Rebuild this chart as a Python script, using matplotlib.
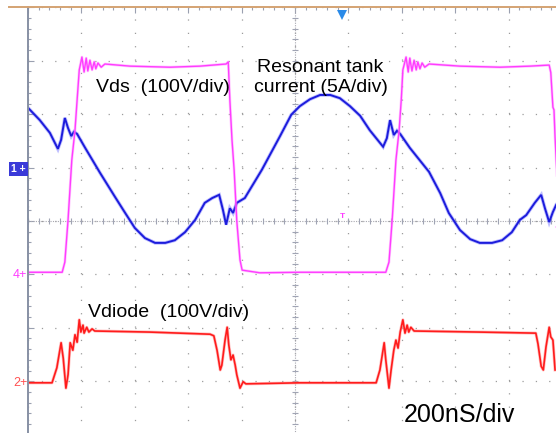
import numpy as np
import matplotlib
matplotlib.use("Agg")
import matplotlib.pyplot as plt
from matplotlib.lines import Line2D

# ---- data (time in divisions, 200 ns/div; amplitude in screen divisions) ----
vds_t = [0.00, 0.64, 0.69, 0.75, 0.82, 0.88, 0.92, 0.96, 1.01, 1.05, 1.09, 1.12, 1.16, 1.20,
         1.24, 1.27, 1.31, 1.37, 1.44, 1.91, 2.66, 3.22, 3.71, 3.75, 3.78, 3.82, 3.86, 3.91,
         3.97, 4.01, 4.34, 5.09, 5.84, 6.70, 6.76, 6.82, 6.89, 6.95, 6.99, 7.02, 7.08, 7.12,
         7.15, 7.19, 7.23, 7.27, 7.30, 7.34, 7.38, 7.43, 7.51, 8.09, 8.84, 9.40, 9.76, 9.79,
         9.83, 9.85, 9.87, 9.93]
vds_v = [-0.96, -0.96, -0.77, 0.02, 1.14, 1.70, 2.27, 2.83, 3.07, 2.79, 3.05, 2.81, 3.01, 2.83,
         2.98, 2.85, 2.96, 2.88, 2.94, 2.90, 2.88, 2.90, 2.94, 2.98, 2.27, 1.52, 0.96, 0.00,
         -0.73, -0.92, -0.97, -0.96, -0.96, -0.96, -0.77, 0.02, 1.14, 1.70, 2.27, 2.83, 3.07, 2.79,
         3.05, 2.81, 3.01, 2.83, 2.98, 2.85, 2.96, 2.88, 2.94, 2.90, 2.88, 2.90, 2.92, 2.78,
         2.13, 2.08, 1.57, 0.39]

cur_t = [0.00, 0.22, 0.41, 0.56, 0.62, 0.69, 0.75, 0.81, 0.86, 0.92, 1.07, 1.35, 1.63, 1.82,
         2.00, 2.19, 2.38, 2.57, 2.75, 2.94, 3.13, 3.31, 3.45, 3.58, 3.65, 3.71, 3.78, 3.84,
         3.91, 4.06, 4.38, 4.72, 4.93, 5.09, 5.28, 5.47, 5.66, 5.84, 6.03, 6.22, 6.40, 6.65,
         6.72, 6.78, 6.85, 6.91, 6.97, 7.15, 7.51, 7.72, 7.88, 8.09, 8.28, 8.46, 8.69, 8.88,
         9.06, 9.21, 9.33, 9.49, 9.61, 9.68, 9.76, 9.83, 9.89]
cur_v = [2.12, 1.89, 1.65, 1.35, 1.52, 1.93, 1.74, 1.59, 1.67, 1.63, 1.37, 0.90, 0.45, 0.15,
         -0.13, -0.32, -0.41, -0.41, -0.36, -0.21, 0.02, 0.34, 0.43, 0.49, 0.21, -0.07, 0.24, 0.15,
         0.34, 0.43, 0.96, 1.59, 1.99, 2.15, 2.28, 2.36, 2.36, 2.30, 2.15, 1.97, 1.70, 1.39,
         1.55, 1.89, 1.61, 1.69, 1.63, 1.37, 0.92, 0.52, 0.15, -0.17, -0.34, -0.41, -0.41, -0.36,
         -0.21, 0.02, 0.11, 0.34, 0.49, 0.24, -0.02, 0.17, 0.30]

vd_t = [0.00, 0.45, 0.54, 0.62, 0.66, 0.71, 0.75, 0.79, 0.84, 0.88, 0.92, 0.96, 0.99, 1.03,
        1.05, 1.10, 1.14, 1.20, 1.25, 2.28, 3.41, 3.48, 3.54, 3.60, 3.63, 3.69, 3.73, 3.76,
        3.80, 3.84, 3.88, 3.91, 3.97, 4.03, 4.08, 5.09, 6.52, 6.59, 6.67, 6.70, 6.76, 6.80,
        6.85, 6.89, 6.93, 6.97, 7.02, 7.06, 7.10, 7.13, 7.17, 7.23, 8.46, 9.51, 9.55, 9.61,
        9.65, 9.70, 9.76, 9.79, 9.83, 9.87]
vd_v = [-3.03, -3.03, -2.75, -2.28, -2.57, -3.13, -2.88, -2.28, -2.42, -2.13, -2.27, -1.85, -2.08, -1.95,
        -2.10, -1.99, -2.08, -2.02, -2.06, -2.08, -2.12, -2.15, -2.42, -2.79, -2.70, -2.23, -1.99, -2.32,
        -2.60, -2.51, -2.70, -2.88, -3.13, -3.01, -3.05, -3.03, -3.03, -2.79, -2.28, -2.60, -3.13, -2.79,
        -2.42, -2.23, -2.38, -2.08, -1.85, -2.10, -1.95, -2.08, -1.99, -2.06, -2.08, -2.10, -2.30, -2.72,
        -2.79, -2.36, -1.99, -2.17, -2.23, -2.79]

labels = {
    "vds": "Vds  (100V/div)",
    "cur": "Resonant tank\ncurrent (5A/div)",
    "vd": "Vdiode  (100V/div)",
    "tb": "200nS/div",
}

MAG = "#ff3cff"
BLU = "#1c1cdc"
RED = "#ff1c1c"

plt.rcParams["font.family"] = ["Liberation Sans", "DejaVu Sans"]

fig = plt.figure(figsize=(5.56, 4.33), dpi=100)
fig.patch.set_facecolor("white")
W, H = 556.0, 433.0
ax = fig.add_axes([28 / W, (H - 434.6) / H, 534 / W, 427.2 / H])
ax.set_xlim(0, 10)
ax.set_ylim(-4, 4)
ax.set_facecolor("white")

# grid
ax.set_xticks(np.arange(0, 11, 1))
ax.set_yticks(np.arange(-4, 5, 1))
ax.set_xticks(np.arange(0, 10.01, 0.2), minor=True)
ax.set_yticks(np.arange(-4, 4.01, 0.2), minor=True)
ax.grid(True, which="major", color="#9c9c9c", linewidth=0.9, linestyle=(0, (1, 9.68)))
ax.tick_params(which="both", labelbottom=False, labelleft=False, bottom=False,
               top=True, left=True, right=False, direction="in",
               color="#9aa0b0", width=0.8)
ax.tick_params(which="major", length=4)
ax.tick_params(which="minor", length=2.5)
for s in ["bottom", "right", "top"]:
    ax.spines[s].set_visible(False)
ax.spines["left"].set_color("#8790a4")
ax.spines["left"].set_linewidth(1.4)

# centre cross lines with ticks
ax.axhline(0, color="#a8a8b0", linewidth=0.8, linestyle=(0, (1, 1.2)))
ax.axvline(5, color="#a8a8b0", linewidth=0.8, linestyle=(0, (1, 1.2)))
tk = np.arange(0, 10.01, 0.2)
ax.plot(tk, np.zeros_like(tk), linestyle="none", marker="|", markersize=5,
        color="#a0a4b4", markeredgewidth=0.8)
tk2 = np.arange(-4, 4.01, 0.2)
ax.plot(np.full_like(tk2, 5.0), tk2, linestyle="none", marker="_", markersize=5,
        color="#a0a4b4", markeredgewidth=0.8)

# traces
ax.plot(cur_t, cur_v, color="#7070ff", linewidth=2.6, alpha=0.45, solid_joinstyle="miter")
ax.plot(cur_t, cur_v, color=BLU, linewidth=1.4, solid_joinstyle="miter")
ax.plot(vds_t, vds_v, color="#ff90ff", linewidth=2.0, alpha=0.5)
ax.plot(vds_t, vds_v, color=MAG, linewidth=1.0)
ax.plot(vd_t, vd_v, color="#ff8080", linewidth=2.2, alpha=0.5)
ax.plot(vd_t, vd_v, color=RED, linewidth=1.2)

# texts
ax.text(1.27, 2.42, labels["vds"], fontsize=14, ha="left", va="baseline", color="black")
ax.text(5.48, 2.42, labels["cur"], fontsize=14, ha="center", va="baseline",
        color="black", linespacing=1.2, multialignment="center")
ax.text(1.12, -1.80, labels["vd"], fontsize=14, ha="left", va="baseline", color="black")
ax.text(7.04, -3.76, labels["tb"], fontsize=18, ha="left", va="baseline", color="black")

# scope markers
ax.plot([5.88], [3.86], marker="v", markersize=7, color="#2a8ae8", clip_on=False,
        markeredgewidth=0)
ax.text(5.88, 0.02, "T", fontsize=6, fontweight="bold", color=MAG, ha="center",
        va="bottom")
ax.plot([9.93], [-0.11], marker="<", markersize=5, color=MAG, clip_on=False,
        markeredgewidth=0)

# channel ground markers (left, figure pixel positions)
fig.text(11 / W, (H - 169) / H, "1 +", fontsize=7.5, color="white", ha="left",
         va="center", fontweight="bold",
         bbox=dict(boxstyle="square,pad=0.2", facecolor="#3a3ad8", edgecolor="none"))
fig.text(13 / W, (H - 275) / H, "4+", fontsize=9, color=MAG, ha="left", va="center")
fig.text(13 / W, (H - 383) / H, "2+", fontsize=9, color="#ff5050", ha="left", va="center")

# top border line
fig.add_artist(Line2D([9 / W, 1.0], [(H - 7) / H, (H - 7) / H], color="#d4a373",
                      linewidth=1.4, transform=fig.transFigure))

fig.savefig("out.png", dpi=100, facecolor="white")
